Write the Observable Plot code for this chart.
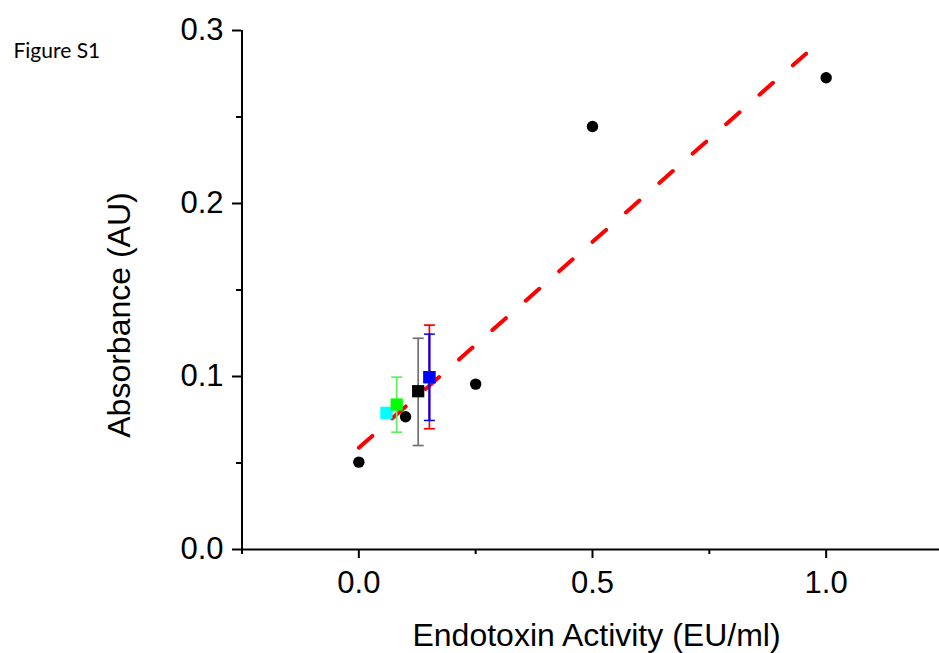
<!DOCTYPE html>
<html><head><meta charset="utf-8">
<script src="https://cdn.jsdelivr.net/npm/d3@7"></script>
<script src="https://cdn.jsdelivr.net/npm/@observablehq/plot@0.6"></script>
<style>html,body{margin:0;padding:0;background:#fff;}</style>
</head><body><div id="chart"></div>
<script>
// ---- data ----
const figLabel = "Figure S1";
const xTitle = "Endotoxin Activity (EU/ml)";
const yTitle = "Absorbance (AU)";

// standard curve (black circles)
const curveX = [0, 0.1, 0.25, 0.5, 1.0];
const curveY = [0.0505, 0.0767, 0.0956, 0.2445, 0.2727];

// linear fit (red dashed), end points
const fitX = [0, 0.957];
const fitY = [0.0588, 0.2866];

// samples (squares with error bars)
const sampleNames = ["cyan", "green", "black", "red", "blue"];
const sampleX = [0.059, 0.081, 0.127, 0.151, 0.151];
const sampleY = [0.0790, 0.0838, 0.0915, 0.0996, 0.0996];
const sampleLo = [null, 0.0678, 0.0601, 0.0698, 0.0746];
const sampleHi = [null, 0.0996, 0.1221, 0.1297, 0.1245];
const sampleFill = ["#00ffff", "#00ff00", "#000000", "#ff0000", "#0000ff"];
const sampleBar = ["#00ffff", "#5ef05e", "#707070", "#ff0000", "#0000ff"];

// ticks
const xMajorTicks = [0, 0.5, 1.0];
const xMinorTicks = [-0.25, 0.25, 0.75, 1.25];
const yMajorTicks = [0, 0.1, 0.2, 0.3];
const yMinorTicks = [0.05, 0.15, 0.25];

// ---- tables ----
const curve = curveX.map((x, i) => ({x, y: curveY[i]}));
const fit = fitX.map((x, i) => ({x, y: fitY[i]}));
const samples = sampleNames.map((name, i) => ({name, x: sampleX[i], y: sampleY[i], lo: sampleLo[i], hi: sampleHi[i], fill: sampleFill[i], bar: sampleBar[i]}));
const bars = samples.filter(d => d.lo != null);
const caps = bars.flatMap(d => [{name: d.name, x: d.x, y: d.lo, c: d.bar}, {name: d.name, x: d.x, y: d.hi, c: d.bar}]);

const capSymbol = {draw(ctx) { ctx.moveTo(-5.5, 0); ctx.lineTo(5.5, 0); }};
const FONT = "'Liberation Sans', Arial, Helvetica, sans-serif";

const chart = Plot.plot({
  width: 939,
  height: 653,
  marginLeft: 241,
  marginRight: 0,
  marginTop: 30,
  marginBottom: 104,
  style: {fontFamily: FONT, background: "#fff", overflow: "visible"},
  x: {domain: [-0.25, 1.25], range: [241.5, 942.5], label: null},
  y: {domain: [0, 0.3], range: [549, 30], label: null},
  color: {type: "identity"},
  marks: [
    Plot.line(fit, {x: "x", y: "y", stroke: "#ff0000", strokeWidth: 4, strokeDasharray: "18,26.5"}),
    Plot.ruleX(bars, {filter: d => d.name !== "blue", x: "x", y1: "lo", y2: "hi", stroke: "bar", strokeWidth: 1.7}),
    Plot.dot(caps, {filter: d => d.name !== "blue", x: "x", y: "y", stroke: "c", fill: "none", strokeWidth: 1.7, symbol: capSymbol}),
    Plot.ruleX(bars, {filter: d => d.name === "blue", x: "x", y1: "lo", y2: "hi", stroke: "bar", strokeWidth: 2.2}),
    Plot.dot(caps, {filter: d => d.name === "blue", x: "x", y: "y", stroke: "c", fill: "none", strokeWidth: 1.5, symbol: capSymbol}),
    Plot.dot(curve, {x: "x", y: "y", r: 5.7, fill: "#000"}),
    Plot.dot(samples, {x: "x", y: "y", symbol: "square", r: 6.9, fill: "fill"}),
    Plot.ruleY([0], {stroke: "#000", strokeWidth: 2}),
    Plot.ruleX([-0.25], {y1: 0, y2: 0.3, stroke: "#000", strokeWidth: 2}),
    Plot.axisX(xMajorTicks, {tickSize: 9, tickPadding: 12, tickFormat: ".1f", fontSize: 31, fontFamily: FONT, strokeWidth: 2, label: null}),
    Plot.axisX(xMinorTicks, {tickSize: 5, tickFormat: () => "", strokeWidth: 2, label: null}),
    Plot.axisY(yMajorTicks, {tickSize: 9, tickPadding: 9, tickFormat: ".1f", fontSize: 31, fontFamily: FONT, strokeWidth: 2, label: null}),
    Plot.axisY(yMinorTicks, {tickSize: 5, tickFormat: () => "", strokeWidth: 2, label: null}),
    Plot.text([xTitle], {text: d => d, frameAnchor: "bottom", textAnchor: "middle", lineAnchor: "middle", dx: 6, dy: 86, fontSize: 32, fontFamily: FONT}),
    Plot.text([yTitle], {text: d => d, frameAnchor: "left", textAnchor: "middle", lineAnchor: "middle", rotate: -90, dx: -122, dy: 25, fontSize: 32, fontFamily: FONT}),
    Plot.text([figLabel], {text: d => d, frameAnchor: "top-left", textAnchor: "start", lineAnchor: "middle", dx: -228, dy: 21, fontSize: 21, fontFamily: "Lato"})
  ]
});
document.getElementById("chart").appendChild(chart);
</script>
</body></html>
